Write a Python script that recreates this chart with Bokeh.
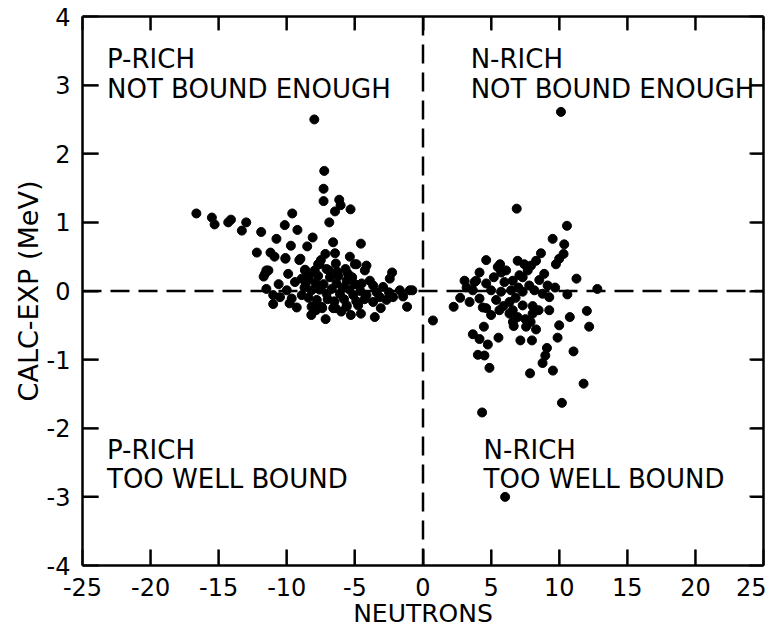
from bokeh.plotting import figure
from bokeh.models import Range1d, Span, LinearAxis, FixedTicker, ColumnDataSource
from bokeh.core.properties import value
from bokeh.embed import file_html
from bokeh.resources import INLINE

# ---- data ----
p_rich_x = [-7.98, -7.25, -7.3, -7.3, -6.15, -6.05, -6.46, -5.32, -6.88, -16.64, -15.5, -15.3,
            -14.3, -14.1, -12.98, -13.3, -11.88, -9.6, -10.15, -9.22, -10.76, -8.1, -9.7, -8.5,
            -6.6, -4.56, -12.2, -11.2, -10.9, -10.1, -9.08, -7.17, -6.46, -5.37, -7.6, -8.66,
            -11.35, -11.7, -9.9, -5.69, -5.0, -4.15, -2.27, -2.44, -7.08,
            -11.0, -9.27, -8.18, -7.86, -7.15, -6.42, -5.61, -4.56, -3.54, -3.1, -1.17, -0.78,
            -1.46, -2.68,
            -10.1, -9.0, -11.5, -11.6, -8.66, -7.7, -9.4, -8.4, -11.5, -11.0, -10.5, -9.64, -8.9,
            -8.18, -7.8, -8.05, -7.4, -10.0, -7.44, -6.83, -7.95,
            -4.88, -4.27, -8.3, -6.35, -5.6, -4.5, -3.66, -2.93, -1.7, -0.97, -7.08, -6.1, -5.12,
            -4.15, -3.17, -2.2, -7.44, -6.59, -5.6, -4.76, -3.66,
            -8.7, -8.4, -7.9, -7.6, -7.3, -7.0, -6.7, -6.5, -6.2, -5.9, -5.8, -5.4, -5.2, -4.9,
            -4.6, -6.9, -7.7, -8.9, -9.8, -10.6, -6.4, -5.0, -3.9, -3.4, -2.5, -8.2, -6.0, -5.3,
            -6.3, -5.5, -4.3, -7.5, -8.6]
p_rich_y = [2.50, 1.75, 1.49, 1.31, 1.33, 1.25, 1.16, 1.19, 1.00, 1.13, 1.07, 0.97,
            1.00, 1.04, 1.00, 0.88, 0.86, 1.13, 0.96, 0.89, 0.76, 0.78, 0.66, 0.65,
            0.71, 0.69, 0.56, 0.56, 0.50, 0.48, 0.45, 0.54, 0.55, 0.50, 0.39, 0.31,
            0.30, 0.21, 0.25, 0.32, 0.39, 0.37, 0.27, 0.18, 0.32,
            -0.19, -0.24, -0.23, -0.28, -0.41, -0.25, -0.23, -0.33, -0.38, -0.25, -0.23, 0.01,
            -0.08, -0.13,
            0.47, 0.47, 0.30, 0.25, 0.30, 0.39, 0.13, 0.18, 0.03, -0.06, -0.09, -0.11, -0.06,
            0.01, -0.13, -0.23, -0.25, 0.01, 0.08, 0.20, 0.30,
            0.39, 0.30, 0.25, 0.11, 0.15, 0.11, 0.08, 0.06, 0.01, 0.01, -0.04, -0.04, -0.06,
            -0.06, -0.09, -0.09, -0.23, -0.25, -0.21, -0.21, -0.16,
            0.05, -0.10, 0.12, 0.02, 0.10, -0.12, 0.03, -0.15, 0.22, 0.05, -0.12, 0.02, 0.20, -0.15,
            0.00, 0.30, 0.22, 0.18, -0.18, 0.10, 0.40, 0.10, 0.15, -0.02, -0.02, -0.35, -0.30, -0.35,
            0.28, 0.25, -0.12, 0.45, 0.12]

n_rich_x = [10.13, 6.88, 10.57, 9.52, 10.37, 10.32, 10.0, 9.76, 8.66, 8.3, 7.93, 7.69, 7.32,
            6.95, 4.64, 5.66, 5.74, 4.15, 3.05, 3.78, 8.54, 9.15, 11.27, 12.8, 10.6, 2.73, 2.25,
            3.42, 4.39, 5.0, 6.59, 8.05, 8.49, 9.27, 12.03, 10.78, 12.2, 10.0, 4.47, 6.66, 7.52,
            7.57, 8.3, 3.66, 4.15, 5.54, 7.15, 8.0, 9.88, 4.76, 4.03, 4.51, 9.1, 8.98, 8.78,
            11.05, 4.88, 7.86, 9.54, 11.79, 10.2, 4.34, 6.03, 0.73,
            7.44, 5.49, 7.08, 3.9, 4.64, 5.98, 6.59, 3.66, 5.0, 5.73, 6.47, 7.32, 8.18, 8.78,
            9.27, 4.15, 5.37, 6.35, 7.32, 4.64, 5.61, 6.35, 6.95, 8.05,
            5.2, 6.1, 6.8, 7.0, 7.8, 5.9, 6.6, 7.9, 3.2, 8.9, 9.7]
n_rich_y = [2.61, 1.20, 0.95, 0.76, 0.68, 0.54, 0.47, 0.39, 0.55, 0.44, 0.37, 0.30, 0.20,
            0.44, 0.45, 0.39, 0.27, 0.27, 0.15, 0.13, 0.16, 0.08, 0.18, 0.03, -0.05, -0.10, -0.23,
            -0.16, -0.24, -0.35, -0.28, -0.22, -0.28, -0.28, -0.29, -0.38, -0.52, -0.50, -0.52,
            -0.51, -0.41, -0.52, -0.56, -0.63, -0.70, -0.68, -0.72, -0.72, -0.68, -0.78, -0.93,
            -0.94, -0.83, -0.94, -1.05, -0.88, -1.12, -1.20, -1.16, -1.35, -1.63, -1.77, -3.00,
            -0.43,
            0.39, 0.35, 0.23, 0.15, 0.11, 0.13, 0.15, 0.01, 0.01, -0.01, 0.01, -0.01, 0.01, -0.04,
            -0.09, -0.11, -0.13, -0.16, -0.21, -0.25, -0.28, -0.33, -0.38, -0.33,
            0.20, 0.30, -0.10, 0.05, 0.08, -0.22, -0.45, -0.45, 0.05, 0.25, 0.05]

x_ticks = [-25, -20, -15, -10, -5, 0, 5, 10, 15, 20, 25]
y_ticks = [-4, -3, -2, -1, 0, 1, 2, 3, 4]
x_tick_labels = {t: str(t) for t in x_ticks}
y_tick_labels = {t: str(t) for t in y_ticks}

notes_x = [-23.2, -23.2, 3.5, 3.5, -23.2, -23.2, 4.45, 4.45]
notes_y = [3.38, 2.95, 3.38, 2.95, -2.32, -2.74, -2.32, -2.74]
notes_t = ["P-RICH", "NOT BOUND ENOUGH", "N-RICH", "NOT BOUND ENOUGH",
           "P-RICH", "TOO WELL BOUND", "N-RICH", "TOO WELL BOUND"]

FONT = "DejaVu Sans"
X0, X1, Y0, Y1 = -25, 25, -4, 4

p = figure(width=766, height=630, output_backend="svg", toolbar_location=None,
           x_range=Range1d(X0, X1), y_range=Range1d(Y0, Y1),
           min_border_left=82, min_border_right=3, min_border_top=16, min_border_bottom=60,
           x_axis_label="NEUTRONS", y_axis_label="CALC-EXP (MeV)")
p.xgrid.visible = False
p.ygrid.visible = False
p.outline_line_color = None

for ax, ticks, labs in ((p.xaxis[0], x_ticks, x_tick_labels), (p.yaxis[0], y_ticks, y_tick_labels)):
    ax.ticker = FixedTicker(ticks=ticks)
    ax.major_label_overrides = labs
    ax.minor_tick_line_color = None
    ax.major_tick_in = 16
    ax.major_tick_out = 0
    ax.major_tick_line_width = 2
    ax.axis_line_width = 2.5
    ax.axis_line_color = "black"
    ax.major_tick_line_color = "black"
    ax.major_label_text_font = FONT
    ax.major_label_text_font_size = "24px"
    ax.major_label_text_color = "black"
    ax.axis_label_text_font = FONT
    ax.axis_label_text_font_style = "normal"
    ax.axis_label_text_color = "black"

p.xaxis[0].major_label_standoff = 12
p.xaxis[0].axis_label_text_font_size = "25px"
p.xaxis[0].axis_label_standoff = 0
p.yaxis[0].major_label_standoff = 12
p.yaxis[0].axis_label_text_font_size = "27px"
p.yaxis[0].axis_label_standoff = 0

for side, ticks in (("above", x_ticks), ("right", y_ticks)):
    ax = LinearAxis(ticker=FixedTicker(ticks=ticks))
    ax.major_label_overrides = {t: "" for t in ticks}
    ax.minor_tick_line_color = None
    ax.major_tick_in = 14
    ax.major_tick_out = 0
    ax.major_tick_line_width = 2
    ax.axis_line_width = 2.5
    ax.major_label_text_font_size = "1px"
    ax.major_label_standoff = 0
    p.add_layout(ax, side)

# inward tick marks drawn from the tick lists (lengths in data units ~ 15 px)
dx = (X1 - X0) * 16 / 681
dy = (Y1 - Y0) * 16 / 554
yt = [t for t in y_ticks if Y0 < t < Y1]
xt = [t for t in x_ticks if X0 < t < X1]
p.segment(x0=[X0] * len(yt), y0=yt, x1=[X0 + dx] * len(yt), y1=yt, line_color="black", line_width=2)
p.segment(x0=[X1] * len(yt), y0=yt, x1=[X1 - dx * 0.8] * len(yt), y1=yt, line_color="black", line_width=2)
p.segment(x0=xt, y0=[Y0] * len(xt), x1=xt, y1=[Y0 + dy] * len(xt), line_color="black", line_width=2)
p.segment(x0=xt, y0=[Y1] * len(xt), x1=xt, y1=[Y1 - dy * 0.85] * len(xt), line_color="black", line_width=2)

p.add_layout(Span(location=0, dimension="width", line_color="black",
                  line_width=2.5, line_dash="19 9"))
p.add_layout(Span(location=0, dimension="height", line_color="black",
                  line_width=2.5, line_dash="19 9"))

p.scatter(x=p_rich_x, y=p_rich_y, size=9, marker="circle", color="black")
p.scatter(x=n_rich_x, y=n_rich_y, size=9, marker="circle", color="black")

src = ColumnDataSource(dict(x=notes_x, y=notes_y, t=notes_t))
p.text(x="x", y="y", text="t", source=src, text_font=value(FONT),
       text_font_size="26px", text_baseline="middle", text_align="left", text_color="black")

open("out.html", "w").write(file_html(p, INLINE))
